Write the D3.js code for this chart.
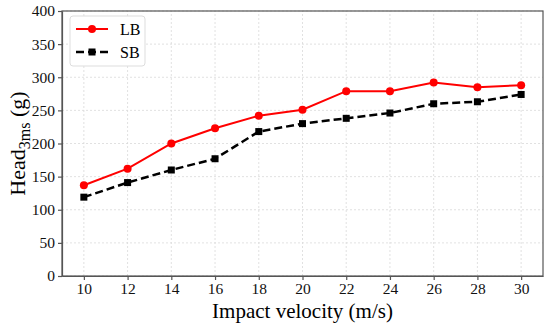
<!DOCTYPE html>
<html lang="en">
<head>
<meta charset="UTF-8">
<title>Head 3ms vs impact velocity</title>
<style>
  body { margin: 0; background: #fff; }
  svg { font-family: "Liberation Serif", "DejaVu Serif", serif; }
  .grid line { stroke: #d9d9d9; stroke-width: 0.8; stroke-dasharray: 2,2; }
  .axis path, .axis line { stroke: #555; stroke-width: 1.2; }
</style>
</head>
<body>
<svg width="550" height="327"></svg>
<script src="https://d3js.org/d3.v7.min.js"></script>
<script>
const velocity = [10, 12, 14, 16, 18, 20, 22, 24, 26, 28, 30];
const lbValues = [137, 162, 200, 223, 242, 251, 279, 279, 292, 285, 288];
const sbValues = [119, 141, 160, 177, 218, 230, 238, 246, 260, 263, 274];
const xTicks = [10, 12, 14, 16, 18, 20, 22, 24, 26, 28, 30];
const yTicks = [0, 50, 100, 150, 200, 250, 300, 350, 400];

const margin = { top: 11, right: 7, bottom: 51, left: 62 };
const width = 550, height = 327;

const svg = d3.select("svg");
const x = d3.scaleLinear().domain([9, 31]).range([margin.left, width - margin.right]);
const y = d3.scaleLinear().domain([0, 400]).range([height - margin.bottom, margin.top]);

// grid
svg.append("g").attr("class", "grid")
  .selectAll("line.v").data(xTicks).join("line")
  .attr("x1", d => x(d)).attr("x2", d => x(d))
  .attr("y1", y(0)).attr("y2", y(400));
svg.append("g").attr("class", "grid")
  .selectAll("line.h").data(yTicks).join("line")
  .attr("x1", x(9)).attr("x2", x(31))
  .attr("y1", d => y(d)).attr("y2", d => y(d));

// frame
svg.append("rect")
  .attr("x", x(9)).attr("y", y(400))
  .attr("width", x(31) - x(9)).attr("height", y(0) - y(400))
  .attr("fill", "none").attr("stroke", "#555").attr("stroke-width", 1.2);

const xAxis = svg.append("g").attr("class", "axis")
  .attr("transform", `translate(0,${y(0)})`)
  .call(d3.axisBottom(x).tickValues(xTicks).tickSize(4).tickPadding(3).tickSizeOuter(0));
const yAxis = svg.append("g").attr("class", "axis")
  .attr("transform", `translate(${x(9)},0)`)
  .call(d3.axisLeft(y).tickValues(yTicks).tickSize(4).tickPadding(3).tickSizeOuter(0));
[xAxis, yAxis].forEach(g => {
  g.attr("font-family", "Liberation Serif, serif").attr("font-size", 15.5);
  g.selectAll("text").attr("fill", "#111");
});

// lines
const line = vals => d3.line().x((d, i) => x(velocity[i])).y(d => y(d))(vals);

svg.append("path").attr("d", line(sbValues))
  .attr("fill", "none").attr("stroke", "#000").attr("stroke-width", 2.5)
  .attr("stroke-dasharray", "8,4");
svg.append("g").selectAll("rect").data(sbValues).join("rect")
  .attr("x", (d, i) => x(velocity[i]) - 3.5).attr("y", d => y(d) - 3.5)
  .attr("width", 7).attr("height", 7).attr("fill", "#000");

svg.append("path").attr("d", line(lbValues))
  .attr("fill", "none").attr("stroke", "#ff0000").attr("stroke-width", 2);
svg.append("g").selectAll("circle").data(lbValues).join("circle")
  .attr("cx", (d, i) => x(velocity[i])).attr("cy", d => y(d))
  .attr("r", 4).attr("fill", "#ff0000");

// legend
const lg = svg.append("g");
lg.append("rect").attr("x", 70).attr("y", 16).attr("width", 75).attr("height", 50)
  .attr("rx", 3).attr("fill", "#fff").attr("stroke", "#ddd").attr("stroke-width", 1);
lg.append("line").attr("x1", 76).attr("x2", 108).attr("y1", 29).attr("y2", 29)
  .attr("stroke", "#ff0000").attr("stroke-width", 2);
lg.append("circle").attr("cx", 92).attr("cy", 29).attr("r", 4).attr("fill", "#ff0000");
lg.append("line").attr("x1", 76).attr("x2", 108).attr("y1", 52).attr("y2", 52)
  .attr("stroke", "#000").attr("stroke-width", 2.5).attr("stroke-dasharray", "8,4");
lg.append("rect").attr("x", 88.5).attr("y", 48.5).attr("width", 7).attr("height", 7).attr("fill", "#000");
lg.append("text").attr("x", 120).attr("y", 34.5).attr("font-size", 16).text("LB");
lg.append("text").attr("x", 120).attr("y", 57.5).attr("font-size", 16).text("SB");

// axis titles
svg.append("text")
  .attr("x", (x(9) + x(31)) / 2).attr("y", 318)
  .attr("text-anchor", "middle").attr("font-size", 21)
  .text("Impact velocity (m/s)");

const yt = svg.append("text")
  .attr("transform", `translate(25,${(y(0) + y(400)) / 2}) rotate(-90)`)
  .attr("text-anchor", "middle").attr("font-size", 22);
yt.append("tspan").text("Head");
yt.append("tspan").attr("font-size", 16).attr("dy", 5).text("3ms");
yt.append("tspan").attr("dy", -5).text(" (g)");
</script>
</body>
</html>
